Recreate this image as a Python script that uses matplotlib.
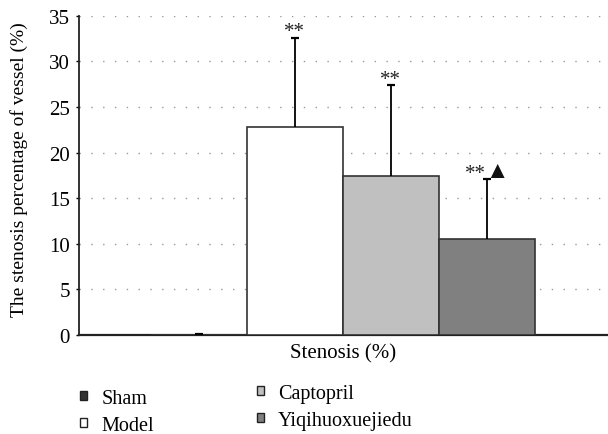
import matplotlib
matplotlib.use("Agg")
import matplotlib.pyplot as plt
from matplotlib.patches import Patch

plt.rcParams['font.family'] = ['Liberation Serif', 'DejaVu Serif']

groups = ["Sham", "Model", "Captopril", "Yiqihuoxuejiedu"]
values = [0.0, 22.8, 17.4, 10.5]
errors = [0.15, 9.8, 10.0, 6.6]
stars = ["", "**", "**", "**"]
extra = ["", "", "", "\u25B2"]
colors = ["#333333", "#ffffff", "#c0c0c0", "#808080"]
category = "Stenosis (%)"
yticks = [0, 5, 10, 15, 20, 25, 30, 35]

fig = plt.figure(figsize=(6.08, 4.35), dpi=100)
ax = fig.add_axes([0.1299, 0.2276, 0.8701, 0.734])

w = 0.2
offsets = [(-1.5 + i) * w for i in range(4)]
for off, v, e, c, s, x in zip(offsets, values, errors, colors, stars, extra):
    ax.bar(off, v, width=w, color=c, edgecolor="#333333", linewidth=1.2, zorder=3)
    ax.errorbar(off, v, yerr=[[0], [e]], fmt="none", ecolor="black",
                elinewidth=1.3, capsize=0, zorder=4)
    ax.plot(off, v + e, marker="_", ms=6, mew=1.6, color="black", zorder=4)
    if s and not x:
        ax.annotate(s, (off, v + e), xytext=(-1, 1), textcoords="offset points",
                    ha="center", va="baseline", fontsize=15, color="#222222", zorder=5)
    elif s:
        ax.annotate(s, (off, v + e), xytext=(-1, 1), textcoords="offset points",
                    ha="right", va="baseline", fontsize=15, color="#222222", zorder=5)
        ax.annotate(x, (off, v + e), xytext=(-1.5, 1.5), textcoords="offset points",
                    ha="left", va="baseline", fontsize=17, color="#111111", zorder=5)

half = 529 / 2 / 96 * w
ax.set_xlim(-half, half)
ax.set_ylim(0, 35)
ax.set_yticks(yticks)
ax.set_xticks([])
ax.tick_params(axis="y", labelsize=15, length=2.5, width=1, direction="out", pad=4)
ax.set_xlabel(category, fontsize=15, labelpad=6)
ax.set_ylabel("The stenosis percentage of vessel (%)", fontsize=14)
ax.yaxis.set_label_coords(-0.096, 0.52)
ax.yaxis.grid(True, linestyle=(0, (1, 7.5)), color="#999999", linewidth=1.0, zorder=0)
ax.set_axisbelow(True)
for sp in ["top", "right"]:
    ax.spines[sp].set_visible(False)
ax.spines["left"].set_linewidth(1.3)
ax.spines["left"].set_color("#222222")
ax.spines["bottom"].set_linewidth(1.6)
ax.spines["bottom"].set_color("#222222")

handles = [Patch(facecolor=c, edgecolor="#222222", linewidth=1.0) for c in colors]
common = dict(loc="upper left", frameon=False, fontsize=14.5, handlelength=0.35,
              handleheight=0.35, handletextpad=0.7, labelspacing=0.4,
              borderaxespad=0, borderpad=0)
leg1 = fig.legend(handles[:2], groups[:2], bbox_to_anchor=(0.1316, 0.104), **common)
leg2 = fig.legend(handles[2:], groups[2:], bbox_to_anchor=(0.4227, 0.116), **common)

fig.savefig("out.png", dpi=100)
